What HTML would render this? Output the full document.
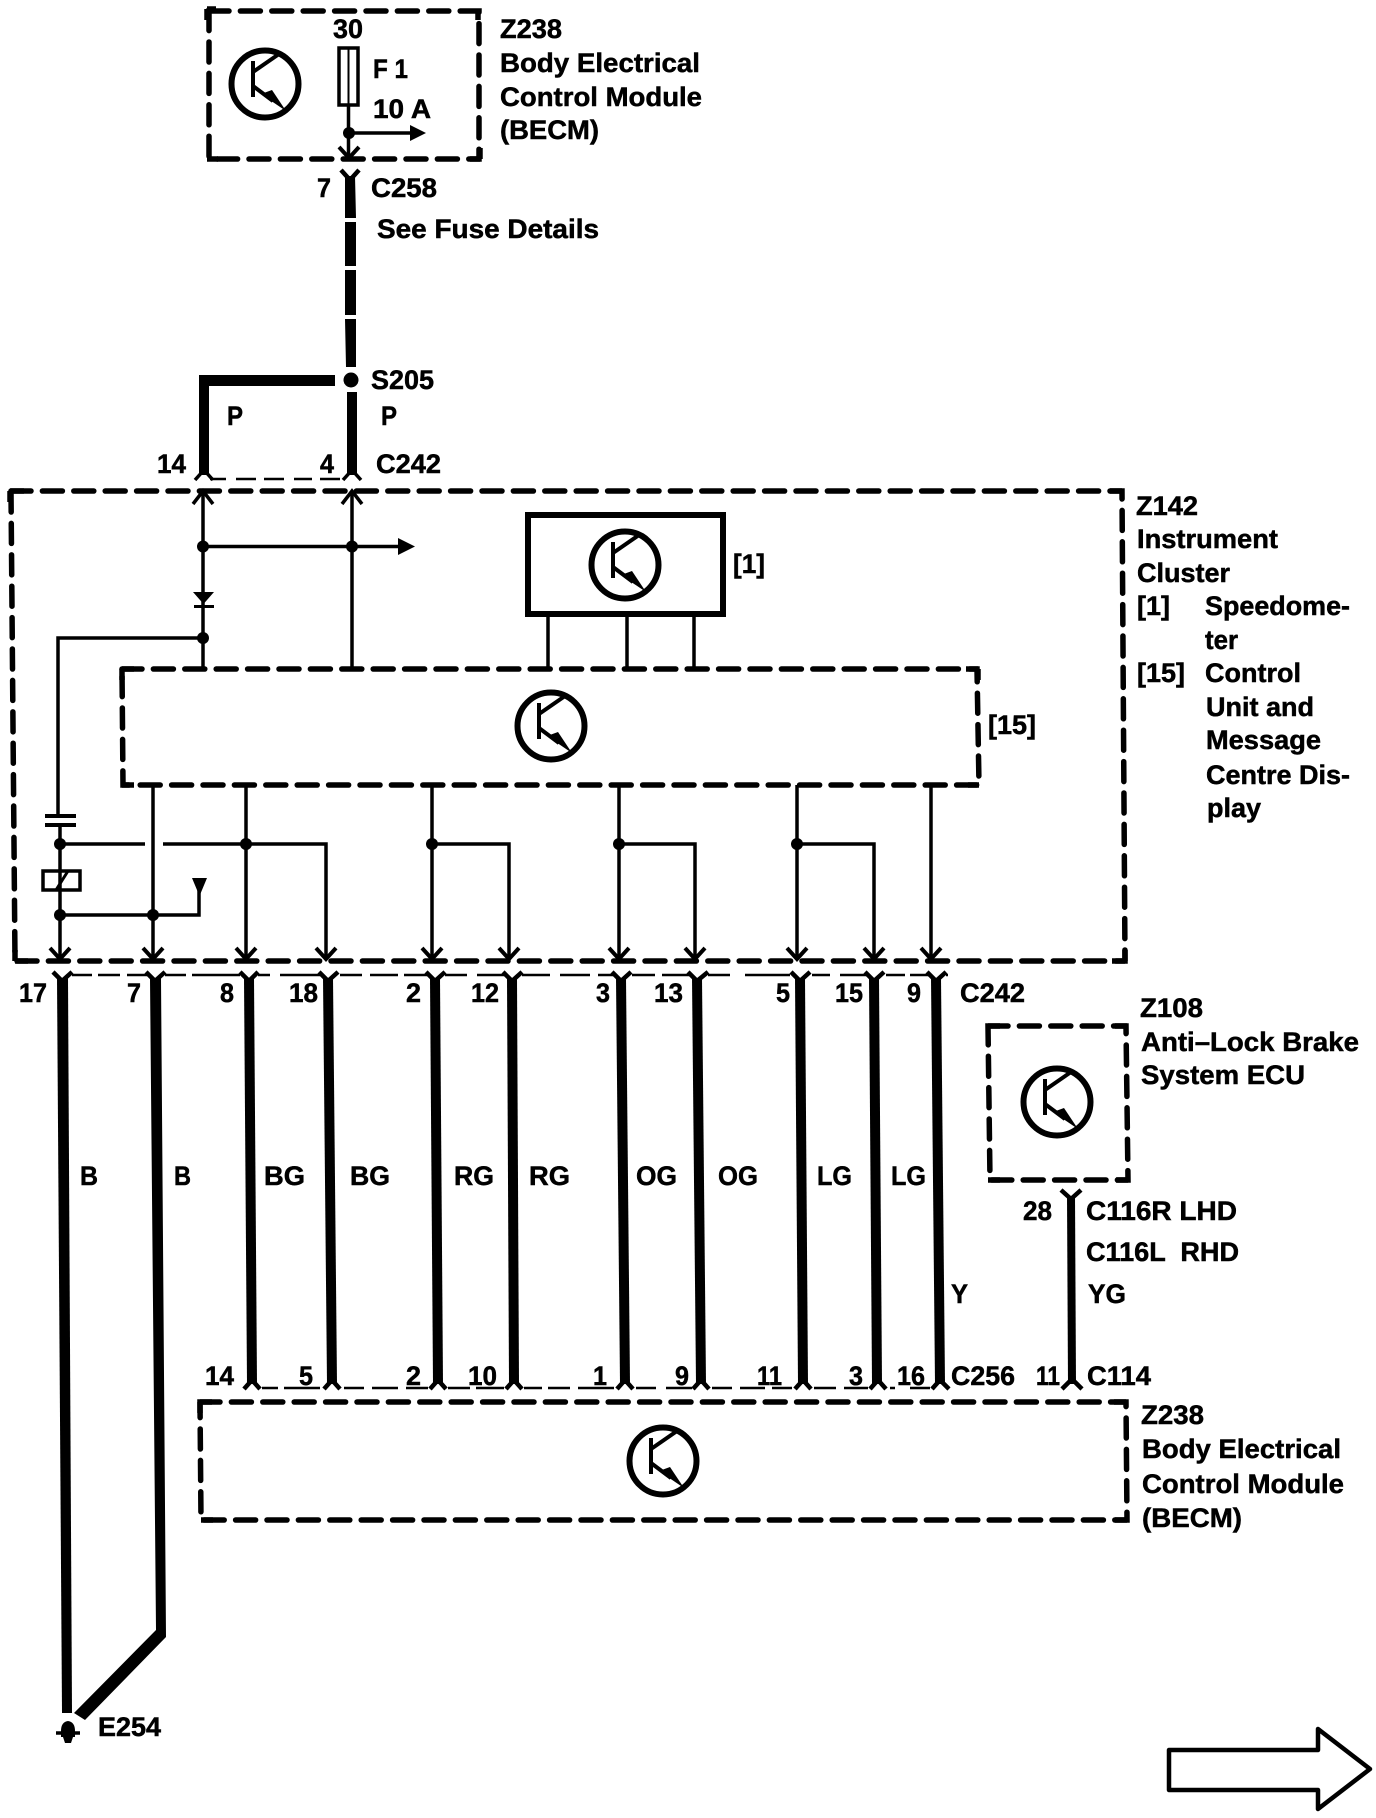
<!DOCTYPE html>
<html><head><meta charset="utf-8"><style>
html,body{margin:0;padding:0;background:#fff}
svg{display:block}
text{font-family:"Liberation Sans",sans-serif;font-weight:bold;font-size:27px;fill:#000;stroke:#000;stroke-width:.5px}
</style></head><body>
<svg xmlns="http://www.w3.org/2000/svg" width="1376" height="1818" viewBox="0 0 1376 1818">
<defs>
<g id="t">
<circle r="33.5" fill="none" stroke="#000" stroke-width="6"/>
<path d="M-12-23V13" stroke="#000" stroke-width="4" fill="none"/>
<path d="M-12-12L14-30M-12 2L8 17" stroke="#000" stroke-width="4" fill="none"/>
<path d="M-4 10L7 6L21 27Z" fill="#000"/>
</g>
<path id="d" d="M-10-11L0 0L10-11" stroke="#000" stroke-width="4" fill="none"/>
</defs>
<rect width="1376" height="1818" fill="#fff"/>

<g fill="none" stroke="#000" stroke-width="5.5" stroke-linecap="round" stroke-dasharray="20 11.4">
<path d="M209 11H479V159H209Z"/>
<path d="M11 491H1122L1125 961H15Z"/>
<path d="M122 669H977L979 785H123Z"/>
<path d="M988 1026H1126L1128 1180H990Z"/>
<path d="M200 1402H1126L1127 1520H201Z"/>
</g>
<path d="M478 9V20M207 9H216M207 9V20M207 159H218M480 159H470M480 159V148M10 491H24M10 491V502M15 961H28M15 961V950M1122 491H1110M1125 961H1112M1125 961V950M122 669H134M122 669V680M122 785H134M978 669H966M978 669V680M979 785H968M988 1026H1000M1127 1026H1115M988 1180H1000M1128 1180H1116M200 1402H212M200 1402V1413M201 1520H213M1126 1402H1114M1127 1520H1115" fill="none" stroke="#000" stroke-width="5.5"/>

<!-- top module -->
<use href="#t" x="265" y="84"/>
<rect x="339" y="48" width="19" height="57" fill="#fff" stroke="#000" stroke-width="3.5"/>
<path d="M348.5 48V105" stroke="#000" stroke-width="2"/>
<path d="M348.5 105V158M349 133H412" stroke="#000" stroke-width="3.5" fill="none"/>
<circle cx="349" cy="133" r="6"/>
<path d="M410 125L426 133L410 141Z"/>
<use href="#d" x="349" y="158"/>
<path d="M341 170L350 180L359 170" stroke="#000" stroke-width="4.5" fill="none"/>
<path d="M345 176H355L356 218H345ZM345 222H356V266H345ZM345 270H356V315H345ZM345 319H356V367H346Z"/>
<circle cx="351" cy="380" r="7.5"/>
<path d="M347 392H357V475H347Z"/>
<path d="M199 375H335V386H209V475H199Z"/>
<path d="M195 480L204 470L213 480M343 480L352 470L361 480" stroke="#000" stroke-width="3.5" fill="none"/>
<path d="M210 479H226M236 479H256M264 479H284M294 479H312M320 479H340" stroke="#000" stroke-width="2.5"/>

<!-- cluster internals -->
<g fill="none" stroke="#000" stroke-width="3.5">
<path d="M203 491V669M352 491V669M203 546.5H398M203 638H58V816M60 825V959"/>
<path d="M193 504L203 491L213 504M342 504L352 491L362 504" stroke-width="3.5"/>
<path d="M60 844H145M163 844H326V957M60 915H199V890"/>
<path d="M153 785V957M246 785V957M432 785V957M619 785V957M797 785V957M931 785V957"/>
<path d="M432 844H509V957M619 844H695V957M797 844H874V957"/>
<path d="M548 614V669M627 614V669M694 614V669"/>
<path d="M45 816H76M45 825H76" stroke-width="4"/>
<rect x="43" y="871" width="37" height="19" stroke-width="3.5"/>
<path d="M56 890L68 871" stroke-width="3"/>
</g>
<path d="M193 592H214L203.500 604ZM194 605H214V608H194Z"/>
<path d="M398 538L415 546.5L398 555Z"/>
<path d="M192 878H207L199.500 896Z"/>
<g><circle cx="203" cy="546.500" r="6"/><circle cx="352" cy="546.500" r="6"/><circle cx="203" cy="638" r="6"/><circle cx="60" cy="844" r="6"/><circle cx="246" cy="844" r="6"/><circle cx="432" cy="844" r="6"/><circle cx="619" cy="844" r="6"/><circle cx="797" cy="844" r="6"/><circle cx="60" cy="915" r="6"/><circle cx="153" cy="915" r="6"/></g>
<rect x="528" y="515" width="195" height="99" fill="#fff" stroke="#000" stroke-width="6"/>
<use href="#t" x="625" y="565"/>
<use href="#t" x="551" y="726"/>
<use href="#d" x="60" y="959"/><use href="#d" x="153" y="959"/><use href="#d" x="246" y="959"/><use href="#d" x="326" y="959"/><use href="#d" x="432" y="959"/><use href="#d" x="509" y="959"/><use href="#d" x="619" y="959"/><use href="#d" x="695" y="959"/><use href="#d" x="797" y="959"/><use href="#d" x="874" y="959"/><use href="#d" x="931" y="959"/>

<!-- wire harness -->
<path d="M72 975H92M98 975H120M127 975H147M165 975H186M192 975H240M258 975H270M280 975H320M340 975H362M370 975H398M404 975H427M445 975H467M477 975H505M522 975H550M560 975H590M598 975H614M632 975H655M662 975H690M708 975H730M745 975H790M812 975H830M840 975H868M886 975H905M910 975H930M946 975H948" stroke="#000" stroke-width="2.5"/>
<g fill="#000">
<path d="M57 978H68L72 1713H62Z"/>
<path d="M150 978H161L166 1637L85 1720L74 1713L156 1630Z"/>
<path d="M244 978H254L257 1384H247Z"/>
<path d="M323 978H333L337 1384H327Z"/>
<path d="M430 978H440L443 1384H433Z"/>
<path d="M507 978H517L519 1384H509Z"/>
<path d="M616 978H626L630 1384H620Z"/>
<path d="M692 978H702L706 1384H696Z"/>
<path d="M795 978H805L808 1384H798Z"/>
<path d="M869 978H879L882 1384H872Z"/>
<path d="M931 978H941L945 1384H935Z"/>
<path d="M1067 1196H1075L1076 1384H1068Z"/>
</g>
<g fill="none" stroke="#000" stroke-width="4.5">
<path d="M53 972L62 981L72 972M146 972L155 981L165 972M240 972L249 981L258 972M319 972L328 981L338 972M426 972L435 981L445 972M503 972L512 981L522 972M612 972L621 981L631 972M688 972L697 981L708 972M791 972L800 981L810 972M865 972L874 981L884 972M927 972L936 981L946 972M1061 1190L1071 1199L1081 1190"/>
<path d="M244 1389L252 1380L260 1389M324 1389L332 1380L340 1389M430 1389L438 1380L446 1389M506 1389L514 1380L522 1389M617 1389L625 1380L633 1389M693 1389L701 1380L709 1389M795 1389L803 1380L811 1389M870 1389L878 1380L886 1389M932 1389L940 1380L949 1389M1062 1389L1072 1379L1082 1389"/>
</g>
<path d="M262 1388H278M284 1388H320M344 1388H364M372 1388H398M406 1388H428M448 1388H470M476 1388H504M524 1388H542M548 1388H570M578 1388H614M636 1388H656M666 1388H692M712 1388H732M740 1388H765M772 1388H792M814 1388H836M844 1388H868M890 1388H895M910 1388H930" stroke="#000" stroke-width="2.500"/>

<use href="#t" x="1057" y="1102"/>
<use href="#t" x="663" y="1461"/>

<!-- ground -->
<path d="M61 1731Q61 1722 68 1721Q75 1722 75 1731V1737H61Z"/>
<path d="M56 1733H80" stroke="#000" stroke-width="3.5"/>
<path d="M63 1737H73L71 1743H65Z"/>

<!-- outline arrow -->
<path d="M1169 1750H1318V1729L1370 1769L1318 1809V1790H1169Z" fill="#fff" stroke="#000" stroke-width="4.500" stroke-linejoin="round"/>

<!-- text -->
<text x="500" y="38" textLength="62" lengthAdjust="spacingAndGlyphs">Z238</text>
<text x="500" y="72" textLength="200" lengthAdjust="spacingAndGlyphs">Body Electrical</text>
<text x="500" y="106" textLength="202" lengthAdjust="spacingAndGlyphs">Control Module</text>
<text x="500" y="139" textLength="99" lengthAdjust="spacingAndGlyphs">(BECM)</text>
<text x="333" y="38" textLength="30" lengthAdjust="spacingAndGlyphs">30</text>
<text x="373" y="78" textLength="35" lengthAdjust="spacingAndGlyphs">F 1</text>
<text x="373" y="118" textLength="58" lengthAdjust="spacingAndGlyphs">10 A</text>
<text x="317" y="197" textLength="14" lengthAdjust="spacingAndGlyphs">7</text>
<text x="371" y="197" textLength="66" lengthAdjust="spacingAndGlyphs">C258</text>
<text x="377" y="238" textLength="222" lengthAdjust="spacingAndGlyphs">See Fuse Details</text>
<text x="371" y="389" textLength="63" lengthAdjust="spacingAndGlyphs">S205</text>
<text x="227" y="425" textLength="16" lengthAdjust="spacingAndGlyphs">P</text>
<text x="381" y="425" textLength="16" lengthAdjust="spacingAndGlyphs">P</text>
<text x="157" y="473" textLength="29" lengthAdjust="spacingAndGlyphs">14</text>
<text x="320" y="473" textLength="14" lengthAdjust="spacingAndGlyphs">4</text>
<text x="376" y="473" textLength="65" lengthAdjust="spacingAndGlyphs">C242</text>

<text x="733" y="573" textLength="32" lengthAdjust="spacingAndGlyphs">[1]</text>
<text x="988" y="734" textLength="48" lengthAdjust="spacingAndGlyphs">[15]</text>
<text x="1136" y="515" textLength="62" lengthAdjust="spacingAndGlyphs">Z142</text>
<text x="1137" y="548" textLength="141" lengthAdjust="spacingAndGlyphs">Instrument</text>
<text x="1137" y="582" textLength="93" lengthAdjust="spacingAndGlyphs">Cluster</text>
<text x="1137" y="615" textLength="33" lengthAdjust="spacingAndGlyphs">[1]</text>
<text x="1205" y="615" textLength="145" lengthAdjust="spacingAndGlyphs">Speedome-</text>
<text x="1205" y="649" textLength="33" lengthAdjust="spacingAndGlyphs">ter</text>
<text x="1137" y="682" textLength="48" lengthAdjust="spacingAndGlyphs">[15]</text>
<text x="1205" y="682" textLength="96" lengthAdjust="spacingAndGlyphs">Control</text>
<text x="1206" y="716" textLength="108" lengthAdjust="spacingAndGlyphs">Unit and</text>
<text x="1206" y="749" textLength="115" lengthAdjust="spacingAndGlyphs">Message</text>
<text x="1206" y="784" textLength="144" lengthAdjust="spacingAndGlyphs">Centre Dis-</text>
<text x="1207" y="817" textLength="54" lengthAdjust="spacingAndGlyphs">play</text>

<text x="19" y="1002" textLength="28" lengthAdjust="spacingAndGlyphs">17</text>
<text x="127" y="1002" textLength="14" lengthAdjust="spacingAndGlyphs">7</text>
<text x="220" y="1002" textLength="14" lengthAdjust="spacingAndGlyphs">8</text>
<text x="289" y="1002" textLength="29" lengthAdjust="spacingAndGlyphs">18</text>
<text x="406" y="1002" textLength="15" lengthAdjust="spacingAndGlyphs">2</text>
<text x="471" y="1002" textLength="28" lengthAdjust="spacingAndGlyphs">12</text>
<text x="596" y="1002" textLength="14" lengthAdjust="spacingAndGlyphs">3</text>
<text x="654" y="1002" textLength="29" lengthAdjust="spacingAndGlyphs">13</text>
<text x="776" y="1002" textLength="14" lengthAdjust="spacingAndGlyphs">5</text>
<text x="835" y="1002" textLength="28" lengthAdjust="spacingAndGlyphs">15</text>
<text x="907" y="1002" textLength="14" lengthAdjust="spacingAndGlyphs">9</text>
<text x="960" y="1002" textLength="65" lengthAdjust="spacingAndGlyphs">C242</text>

<text x="80" y="1185" textLength="18" lengthAdjust="spacingAndGlyphs">B</text>
<text x="174" y="1185" textLength="17" lengthAdjust="spacingAndGlyphs">B</text>
<text x="264" y="1185" textLength="41" lengthAdjust="spacingAndGlyphs">BG</text>
<text x="350" y="1185" textLength="40" lengthAdjust="spacingAndGlyphs">BG</text>
<text x="454" y="1185" textLength="40" lengthAdjust="spacingAndGlyphs">RG</text>
<text x="529" y="1185" textLength="41" lengthAdjust="spacingAndGlyphs">RG</text>
<text x="636" y="1185" textLength="41" lengthAdjust="spacingAndGlyphs">OG</text>
<text x="718" y="1185" textLength="40" lengthAdjust="spacingAndGlyphs">OG</text>
<text x="817" y="1185" textLength="35" lengthAdjust="spacingAndGlyphs">LG</text>
<text x="891" y="1185" textLength="35" lengthAdjust="spacingAndGlyphs">LG</text>
<text x="951" y="1303" textLength="17" lengthAdjust="spacingAndGlyphs">Y</text>

<text x="1140" y="1017" textLength="63" lengthAdjust="spacingAndGlyphs">Z108</text>
<text x="1141" y="1051" textLength="218" lengthAdjust="spacingAndGlyphs">Anti–Lock Brake</text>
<text x="1141" y="1084" textLength="164" lengthAdjust="spacingAndGlyphs">System ECU</text>
<text x="1023" y="1220" textLength="29" lengthAdjust="spacingAndGlyphs">28</text>
<text x="1086" y="1220" textLength="151" lengthAdjust="spacingAndGlyphs">C116R LHD</text>
<text x="1086" y="1261" textLength="153" lengthAdjust="spacingAndGlyphs" xml:space="preserve">C116L  RHD</text>
<text x="1088" y="1303" textLength="38" lengthAdjust="spacingAndGlyphs">YG</text>

<text x="205" y="1385" textLength="29" lengthAdjust="spacingAndGlyphs">14</text>
<text x="299" y="1385" textLength="14" lengthAdjust="spacingAndGlyphs">5</text>
<text x="406" y="1385" textLength="15" lengthAdjust="spacingAndGlyphs">2</text>
<text x="468" y="1385" textLength="29" lengthAdjust="spacingAndGlyphs">10</text>
<text x="593" y="1385" textLength="14" lengthAdjust="spacingAndGlyphs">1</text>
<text x="675" y="1385" textLength="14" lengthAdjust="spacingAndGlyphs">9</text>
<text x="757" y="1385" textLength="25" lengthAdjust="spacingAndGlyphs">11</text>
<text x="849" y="1385" textLength="14" lengthAdjust="spacingAndGlyphs">3</text>
<text x="897" y="1385" textLength="28" lengthAdjust="spacingAndGlyphs">16</text>
<text x="951" y="1385" textLength="64" lengthAdjust="spacingAndGlyphs">C256</text>
<text x="1036" y="1385" textLength="24" lengthAdjust="spacingAndGlyphs">11</text>
<text x="1087" y="1385" textLength="64" lengthAdjust="spacingAndGlyphs">C114</text>

<text x="1141" y="1424" textLength="63" lengthAdjust="spacingAndGlyphs">Z238</text>
<text x="1142" y="1458" textLength="199" lengthAdjust="spacingAndGlyphs">Body Electrical</text>
<text x="1142" y="1493" textLength="202" lengthAdjust="spacingAndGlyphs">Control Module</text>
<text x="1142" y="1527" textLength="100" lengthAdjust="spacingAndGlyphs">(BECM)</text>
<text x="98" y="1736" textLength="63" lengthAdjust="spacingAndGlyphs">E254</text>
</svg>
</body></html>
